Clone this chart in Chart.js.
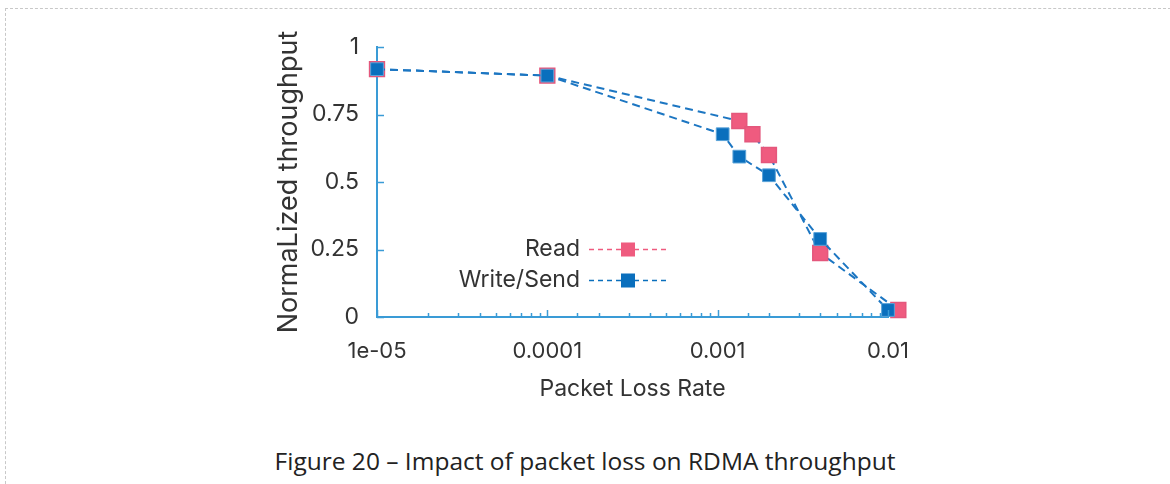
<!DOCTYPE html>
<html>
<head>
<meta charset="utf-8">
<script src="https://cdn.jsdelivr.net/npm/chart.js@4/dist/chart.umd.min.js"></script>
<style>
  body { margin: 0; background: #fff; width: 1170px; height: 484px; overflow: hidden; position: relative; }
  .frame { position: absolute; left: 5px; top: 8px; width: 1170px; height: 480px;
           border-top: 1px dashed #c8c8c8; border-left: 1px dashed #c8c8c8; }
  #chart { position: absolute; left: 0; top: 0; }
  .caption { position: absolute; left: 0; width: 1170px; top: 444px; text-align: center;
             font-family: "Open Sans", sans-serif; font-size: 24.5px; color: #222; }
</style>
</head>
<body>
<div class="frame"></div>
<canvas id="chart" width="1170" height="420"></canvas>
<div class="caption">Figure 20 – Impact of packet loss on RDMA throughput</div>
<script>
// data
const readLoss = [1e-5, 1e-4, 0.00134, 0.0016, 0.002, 0.004, 0.0115];
const readThroughput = [0.918, 0.894, 0.726, 0.677, 0.60, 0.237, 0.026];
const writeLoss = [1e-5, 1e-4, 0.00107, 0.00134, 0.002, 0.004, 0.01];
const writeThroughput = [0.918, 0.894, 0.677, 0.594, 0.525, 0.289, 0.026];

const xTickValues = [1e-5, 1e-4, 1e-3, 1e-2];
const xTickLabels = ["1e-05", "0.0001", "0.001", "0.01"];
const yTickValues = [0, 0.25, 0.5, 0.75, 1];
const yTickLabels = ["0", "0.25", "0.5", "0.75", "1"];

const BLUE = "#0a6fbd";
const LINE_BLUE = "#1c76c2";
const PINK = "#ef5b7f";
const AXIS = "#3a9bd6";
const FONT = "Inter, 'Open Sans', sans-serif";

const toPoints = (xs, ys) => xs.map((x, i) => ({ x, y: ys[i] }));

// inward tick marks + hand-drawn legend like the original
const extras = {
  id: "extras",
  afterDraw(chart) {
    const ctx = chart.ctx;
    const { x, y } = chart.scales;
    const area = chart.chartArea;
    ctx.save();
    ctx.strokeStyle = AXIS;
    ctx.lineWidth = 1.5;
    x.ticks.forEach((t) => {
      const px = Math.round(x.getPixelForValue(t.value)) + 0.5;
      const major = xTickValues.includes(t.value);
      ctx.beginPath();
      ctx.moveTo(px, area.bottom);
      ctx.lineTo(px, area.bottom - (major ? 7 : 4));
      ctx.stroke();
    });
    yTickValues.forEach((v) => {
      const py = Math.round(y.getPixelForValue(v)) + 0.5;
      ctx.beginPath();
      ctx.moveTo(area.left, py);
      ctx.lineTo(area.left + 7, py);
      ctx.stroke();
    });

    // legend
    const rows = [
      { label: "Read", color: PINK, ry: y.getPixelForValue(0.25) },
      { label: "Write/Send", color: BLUE, ry: y.getPixelForValue(0.25) + 31 },
    ];
    const textRight = area.left + 203;
    rows.forEach((r) => {
      ctx.fillStyle = "#333";
      ctx.font = "23px " + FONT;
      ctx.textAlign = "right";
      ctx.textBaseline = "middle";
      ctx.fillText(r.label, textRight, r.ry);
      ctx.strokeStyle = r.color;
      ctx.lineWidth = 1.6;
      ctx.setLineDash([5, 4]);
      ctx.beginPath();
      ctx.moveTo(textRight + 9, r.ry);
      ctx.lineTo(textRight + 88, r.ry);
      ctx.stroke();
      ctx.setLineDash([]);
      ctx.fillStyle = r.color;
      ctx.fillRect(textRight + 41, r.ry - 7, 14, 14);
    });
    ctx.restore();
  },
};

new Chart(document.getElementById("chart"), {
  type: "scatter",
  data: {
    datasets: [
      {
        label: "Write/Send",
        data: toPoints(writeLoss, writeThroughput),
        showLine: true,
        borderColor: LINE_BLUE,
        borderWidth: 2,
        borderDash: [8, 5],
        pointStyle: "rect",
        pointRadius: 9,
        pointBackgroundColor: BLUE,
        pointBorderColor: "#5aa3d8",
        pointBorderWidth: 1,
        clip: false,
      },
      {
        label: "Read",
        data: toPoints(readLoss, readThroughput),
        showLine: true,
        borderColor: LINE_BLUE,
        borderWidth: 2,
        borderDash: [8, 5],
        pointStyle: "rect",
        pointRadius: 10.5,
        pointBackgroundColor: PINK,
        pointBorderColor: "#e4577c",
        pointBorderWidth: 1.5,
        clip: false,
      },
    ],
  },
  options: {
    responsive: false,
    devicePixelRatio: 1,
    animation: false,
    layout: { padding: { left: 269, right: 282, top: 47, bottom: 13 } },
    plugins: { legend: { display: false }, tooltip: { enabled: false } },
    scales: {
      x: {
        type: "logarithmic",
        min: 1e-5,
        max: 1e-2,
        grid: { display: false, drawTicks: false },
        border: { color: AXIS, width: 2 },
        ticks: {
          autoSkip: false,
          maxRotation: 0,
          padding: 21,
          color: "#333",
          font: { family: FONT, size: 22 },
          callback: (v) => {
            const i = xTickValues.findIndex((t) => Math.abs(t - v) / t < 1e-6);
            return i >= 0 ? xTickLabels[i] : "";
          },
        },
        title: {
          display: true,
          text: "Packet Loss Rate",
          color: "#333",
          font: { family: FONT, size: 23 },
        },
        afterFit: (s) => { s.height = 90; },
      },
      y: {
        min: 0,
        max: 1,
        grid: { display: false, drawTicks: false },
        border: { color: AXIS, width: 2 },
        afterBuildTicks: (s) => { s.ticks = yTickValues.map((v) => ({ value: v })); },
        ticks: {
          padding: 18,
          color: "#333",
          font: { family: FONT, size: 23 },
          callback: (v) => yTickLabels[yTickValues.indexOf(v)],
        },
        title: {
          display: true,
          text: "NormaLized throughput",
          color: "#333",
          font: { family: FONT, size: 27 },
        },
        afterFit: (s) => { s.width = 108; },
      },
    },
  },
  plugins: [extras],
});
</script>
</body>
</html>
